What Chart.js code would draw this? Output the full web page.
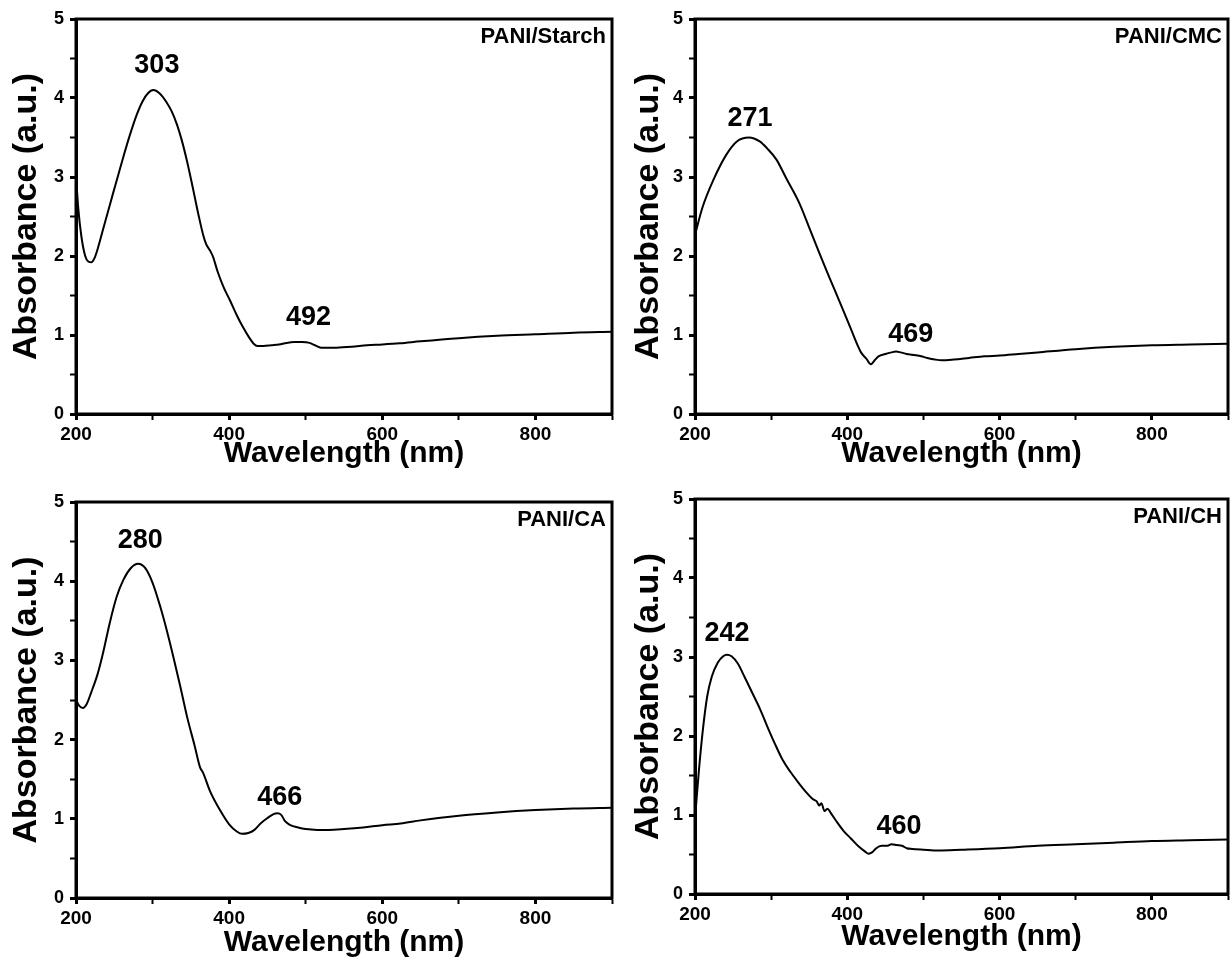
<!DOCTYPE html>
<html>
<head>
<meta charset="utf-8">
<script src="https://cdn.jsdelivr.net/npm/chart.js@4.4.0/dist/chart.umd.min.js"></script>
<style>
  body { margin: 0; background: #fff; width: 1231px; height: 960px; position: relative; overflow: hidden; }
  .panel { position: absolute; }
</style>
</head>
<body>
<div class="panel" style="left:0;top:0;width:615px;height:480px"><canvas id="c1"></canvas></div>
<div class="panel" style="left:615px;top:0;width:616px;height:480px"><canvas id="c2"></canvas></div>
<div class="panel" style="left:0;top:480px;width:615px;height:480px"><canvas id="c3"></canvas></div>
<div class="panel" style="left:615px;top:480px;width:616px;height:480px"><canvas id="c4"></canvas></div>
<script>
// valeurs (nm / absorbance)
const starchNm  = [200, 203, 207, 212, 216, 220, 224, 228, 236, 242, 248, 255, 262, 270, 279, 287, 294, 301, 309, 318, 325, 332, 338, 345, 352, 360, 366, 370, 375, 379, 385, 393, 401, 410, 418, 426, 432, 437, 445, 455, 465, 475, 485, 495, 505, 512, 520, 540, 560, 580, 600, 623, 650, 700, 750, 800, 850, 900];
const starchAbs = [3.02, 2.6, 2.25, 2.0, 1.93, 1.92, 1.97, 2.08, 2.36, 2.57, 2.78, 3.02, 3.26, 3.52, 3.78, 3.96, 4.06, 4.10, 4.06, 3.95, 3.83, 3.66, 3.47, 3.20, 2.89, 2.52, 2.27, 2.15, 2.07, 1.99, 1.80, 1.60, 1.44, 1.25, 1.10, 0.97, 0.89, 0.86, 0.86, 0.87, 0.88, 0.90, 0.91, 0.91, 0.90, 0.87, 0.84, 0.84, 0.85, 0.87, 0.88, 0.895, 0.92, 0.96, 0.99, 1.01, 1.03, 1.04];

const cmcNm  = [200, 210, 224, 241, 255, 271, 285, 295, 307, 320, 337, 350, 364, 376, 390, 405, 414, 418, 425, 431, 436, 441, 450, 458, 464, 470, 478, 485, 492, 497, 505, 515, 524, 540, 560, 580, 600, 625, 650, 700, 750, 800, 850, 900];
const cmcAbs = [2.27, 2.62, 2.96, 3.28, 3.45, 3.50, 3.45, 3.36, 3.22, 2.98, 2.67, 2.36, 2.02, 1.74, 1.42, 1.07, 0.86, 0.78, 0.70, 0.63, 0.68, 0.73, 0.76, 0.78, 0.79, 0.78, 0.76, 0.75, 0.74, 0.73, 0.71, 0.69, 0.68, 0.69, 0.71, 0.73, 0.74, 0.76, 0.78, 0.82, 0.85, 0.87, 0.88, 0.89];

const caNm  = [200, 204, 209, 214, 220, 228, 235, 244, 253, 262, 272, 281, 290, 300, 310, 318, 327, 336, 345, 355, 362, 366, 375, 388, 400, 410, 417, 425, 433, 441, 450, 458, 463, 468, 473, 480, 490, 500, 515, 530, 550, 575, 600, 624, 650, 700, 750, 800, 850, 900];
const caAbs = [2.5, 2.43, 2.40, 2.45, 2.6, 2.82, 3.08, 3.47, 3.80, 4.02, 4.17, 4.22, 4.17, 3.98, 3.68, 3.40, 3.05, 2.68, 2.29, 1.92, 1.65, 1.58, 1.35, 1.11, 0.93, 0.84, 0.81, 0.82, 0.86, 0.94, 1.01, 1.06, 1.07, 1.05, 0.97, 0.92, 0.89, 0.87, 0.86, 0.86, 0.87, 0.89, 0.92, 0.94, 0.98, 1.04, 1.08, 1.11, 1.13, 1.14];

const chNm  = [200, 205, 210, 216, 222, 230, 237, 242, 248, 256, 265, 275, 285, 295, 305, 315, 325, 335, 345, 355, 360, 363, 366, 370, 374, 378, 385, 395, 405, 415, 423, 428, 433, 438, 445, 452, 458, 465, 472, 478, 485, 500, 520, 550, 600, 650, 700, 750, 800, 850, 900];
const chAbs = [0.95, 1.55, 2.05, 2.5, 2.75, 2.93, 3.01, 3.03, 3.01, 2.92, 2.75, 2.55, 2.35, 2.12, 1.9, 1.7, 1.55, 1.42, 1.3, 1.2, 1.17, 1.12, 1.15, 1.05, 1.08, 1.03, 0.93, 0.8, 0.7, 0.6, 0.54, 0.51, 0.53, 0.58, 0.61, 0.61, 0.63, 0.62, 0.61, 0.58, 0.57, 0.56, 0.55, 0.56, 0.58, 0.61, 0.63, 0.65, 0.67, 0.68, 0.69];

// pics annotés : longueur d'onde + hauteur lue
const starchPeaks = [303, 492], starchPeakAbs = [4.10, 0.91];
const cmcPeaks = [271, 469], cmcPeakAbs = [3.50, 0.79];
const caPeaks = [280, 466], caPeakAbs = [4.22, 1.07];
const chPeaks = [242, 460], chPeakAbs = [3.03, 0.63];

const FONT = '"Liberation Sans", Arial, Helvetica, sans-serif';
Chart.defaults.font.family = FONT;
Chart.defaults.color = '#000';

// cadre + titre + étiquettes des pics
const framePlugin = {
    id: 'frame',
    afterDraw(chart, args, opts) {
        const { ctx, chartArea: a, scales } = chart;
        ctx.save();
        ctx.strokeStyle = '#000';
        ctx.lineWidth = 3;
        ctx.strokeRect(a.left, a.top, a.right - a.left, a.bottom - a.top);
        ctx.fillStyle = '#000';
        ctx.font = `bold 22px ${FONT}`;
        ctx.textAlign = 'right';
        ctx.textBaseline = 'alphabetic';
        ctx.fillText(opts.title, a.right - 6, a.top + 24);
        ctx.font = `bold 27px ${FONT}`;
        ctx.textAlign = 'center';
        opts.peaks.forEach((nm, i) => {
            const x = scales.x.getPixelForValue(nm) + opts.dx[i];
            const y = scales.y.getPixelForValue(opts.peakAbs[i]);
            ctx.fillText(String(nm), x, y - opts.gap[i]);
        });
        ctx.restore();
    }
};

function makePanel(id, nm, abs, title, peaks, peakAbs, lay) {
    const ctx = document.getElementById(id).getContext('2d');
    return new Chart(ctx, {
        type: 'line',
        data: {
            datasets: [{
                data: nm.map((x, i) => ({ x: x, y: abs[i] })),
                borderColor: '#000',
                borderWidth: 2,
                pointRadius: 0,
                cubicInterpolationMode: 'monotone',
                fill: false
            }]
        },
        options: {
            responsive: true,
            maintainAspectRatio: false,
            animation: false,
            devicePixelRatio: 1,
            layout: { padding: { top: lay.top, right: lay.right, left: 0, bottom: 0 } },
            plugins: {
                legend: { display: false },
                tooltip: { enabled: false },
                frame: { title: title, peaks: peaks, peakAbs: peakAbs, dx: lay.dx, gap: lay.gap }
            },
            scales: {
                x: {
                    type: 'linear',
                    min: 200, max: 900,
                    afterFit: (s) => { s.height = lay.xHeight; },
                    border: { display: true, color: '#000', width: 3 },
                    grid: { drawOnChartArea: false, tickLength: 6, color: '#000',
                            tickWidth: (c) => (c.tick && c.tick.value % 200 === 0) ? 3 : 2 },
                    ticks: {
                        stepSize: 100, padding: 3, maxRotation: 0, autoSkip: false,
                        font: { size: 19, weight: 'bold' },
                        callback: (v) => v % 200 === 0 ? v : ''
                    },
                    title: {
                        display: true, text: 'Wavelength (nm)',
                        font: { size: 30, weight: 'bold' },
                        padding: { top: 0, bottom: lay.xTitlePad }
                    }
                },
                y: {
                    min: 0, max: 5,
                    afterFit: (s) => { s.width = lay.yWidth; },
                    border: { display: true, color: '#000', width: 3 },
                    grid: { drawOnChartArea: false, tickLength: 6, color: '#000',
                            tickWidth: (c) => (c.tick && Number.isInteger(c.tick.value)) ? 3 : 2 },
                    ticks: {
                        stepSize: 0.5, padding: 6, autoSkip: false,
                        font: { size: 18, weight: 'bold' },
                        callback: (v) => Number.isInteger(v) ? v : ''
                    },
                    title: {
                        display: true, text: 'Absorbance (a.u.)',
                        font: { size: 34, weight: 'bold' },
                        padding: { top: lay.yTitlePad, bottom: 0 }
                    }
                }
            }
        },
        plugins: [framePlugin]
    });
}

makePanel('c1', starchNm, starchAbs, 'PANI/Starch', starchPeaks, starchPeakAbs,
    { top: 19, right: 3, yWidth: 76, xHeight: 66, xTitlePad: 8, yTitlePad: 6, dx: [2, 9], gap: [17, 17] });
makePanel('c2', cmcNm, cmcAbs, 'PANI/CMC', cmcPeaks, cmcPeakAbs,
    { top: 19, right: 3, yWidth: 80, xHeight: 66, xTitlePad: 8, yTitlePad: 13, dx: [1, 11], gap: [12, 10] });
makePanel('c3', caNm, caAbs, 'PANI/CA', caPeaks, caPeakAbs,
    { top: 22, right: 3, yWidth: 76, xHeight: 62, xTitlePad: -1, yTitlePad: 6, dx: [3, 0], gap: [16, 8] });
makePanel('c4', chNm, chAbs, 'PANI/CH', chPeaks, chPeakAbs,
    { top: 19, right: 3, yWidth: 80, xHeight: 66, xTitlePad: 5, yTitlePad: 13, dx: [0, 6], gap: [14, 10] });
</script>
</body>
</html>
